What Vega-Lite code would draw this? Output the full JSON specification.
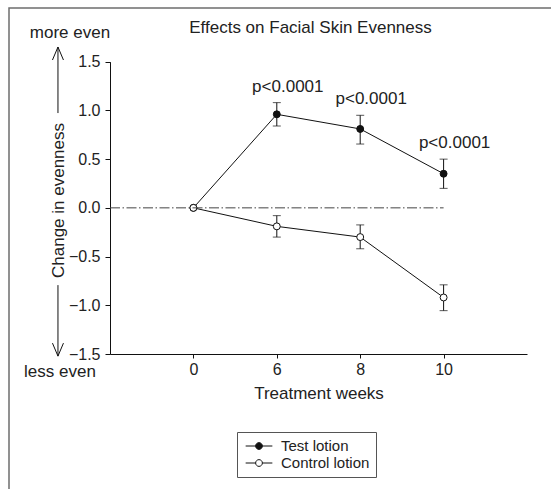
{
  "$schema": "https://vega.github.io/schema/vega-lite/v6.json",
  "autosize": "none",
  "padding": {"left": 9, "top": 8, "right": -3, "bottom": -3},
  "width": 545,
  "height": 484,
  "config": {
    "view": {"stroke": "#6e6e6e", "strokeWidth": 1.5},
    "font": "Liberation Sans",
    "axis": {"grid": false, "domainColor": "#111", "tickColor": "#111", "labelColor": "#222", "titleColor": "#222", "labelFont": "Liberation Sans", "titleFont": "Liberation Sans", "labelFontSize": 16, "titleFontSize": 17, "titleFontWeight": "normal"},
    "text": {"font": "Liberation Sans", "color": "#222"}
  },
  "title": {"text": "Effects on Facial Skin Evenness", "fontSize": 17, "fontWeight": "normal", "color": "#222", "font": "Liberation Sans", "anchor": "middle", "frame": "group", "offset": -42, "baseline": "alphabetic", "dx": 29},
  "layer": [
    {
      "data": {"values": [
        {"series": "Test lotion", "week": 0, "mean": 0},
        {"series": "Test lotion", "week": 6, "mean": 0.96, "lo": 0.84, "hi": 1.08, "p": "p<0.0001"},
        {"series": "Test lotion", "week": 8, "mean": 0.81, "lo": 0.655, "hi": 0.95, "p": "p<0.0001"},
        {"series": "Test lotion", "week": 10, "mean": 0.35, "lo": 0.2, "hi": 0.5, "p": "p<0.0001"},
        {"series": "Control lotion", "week": 0, "mean": 0},
        {"series": "Control lotion", "week": 6, "mean": -0.19, "lo": -0.3, "hi": -0.08},
        {"series": "Control lotion", "week": 8, "mean": -0.3, "lo": -0.42, "hi": -0.175},
        {"series": "Control lotion", "week": 10, "mean": -0.92, "lo": -1.055, "hi": -0.79}
      ]},
      "encoding": {
        "x": {"field": "week", "type": "ordinal", "scale": {"type": "point", "padding": 1, "range": [101, 518]},
              "axis": {"orient": "bottom", "offset": -138, "title": "Treatment weeks", "titlePadding": 8, "labelAngle": 0, "tickSize": 4, "labelPadding": 3}},
        "y": {"field": "mean", "type": "quantitative", "scale": {"domain": [-1.5, 1.5], "range": [346, 53.7], "nice": false, "zero": false},
              "axis": {"orient": "left", "offset": -101, "values": [-1.5, -1, -0.5, 0, 0.5, 1, 1.5], "format": ".1f", "tickSize": 5, "labelPadding": 5,
                       "title": "Change in evenness", "titleX": -52, "titleY": 192, "titleAngle": -90, "titleAlign": "center", "titleBaseline": "middle"}}
      },
      "layer": [
        {"mark": {"type": "line", "color": "#111", "strokeWidth": 1}, "encoding": {"detail": {"field": "series"}}},
        {"transform": [{"filter": "datum.lo != null"}], "mark": {"type": "rule", "color": "#111", "strokeWidth": 1},
         "encoding": {"y": {"field": "lo", "type": "quantitative"}, "y2": {"field": "hi"}}},
        {"transform": [{"filter": "datum.lo != null"}], "mark": {"type": "tick", "color": "#111", "size": 8, "thickness": 1, "orient": "horizontal"},
         "encoding": {"y": {"field": "lo", "type": "quantitative"}}},
        {"transform": [{"filter": "datum.hi != null"}], "mark": {"type": "tick", "color": "#111", "size": 8, "thickness": 1, "orient": "horizontal"},
         "encoding": {"y": {"field": "hi", "type": "quantitative"}}},
        {"mark": {"type": "point", "filled": true, "size": 48, "stroke": "#111", "strokeWidth": 1, "opacity": 1},
         "encoding": {"fill": {"field": "series", "type": "nominal",
                                "scale": {"domain": ["Test lotion", "Control lotion"], "range": ["#111111", "#ffffff"]},
                                "legend": {"orient": "none", "legendX": 228, "legendY": 424, "title": null, "padding": 6,
                                           "strokeColor": "#555", "fillColor": "white",
                                           "symbolType": "M-1.78,0H-0.45M0.45,0H1.78M-0.45,0A0.45,0.45,0,1,1,0.45,0A0.45,0.45,0,1,1,-0.45,0Z",
                                           "symbolSize": 225, "symbolStrokeColor": "#111", "symbolStrokeWidth": 1,
                                           "symbolOffset": 8, "labelOffset": 14, "labelFontSize": 15, "labelColor": "#222", "labelFont": "Liberation Sans", "rowPadding": 1}}}},
        {"transform": [{"filter": "datum.p != null"}], "mark": {"type": "text", "fontSize": 17, "baseline": "alphabetic", "dy": -11, "dx": 11},
         "encoding": {"y": {"field": "hi", "type": "quantitative"}, "text": {"field": "p"}}}
      ]
    },
    {
      "data": {"values": [{"note": "annotations"}]},
      "layer": [
        {"mark": {"type": "rule", "color": "#444", "strokeWidth": 1, "strokeDash": [10, 2.5, 1.5, 2.5]},
         "encoding": {"x": {"datum": 0, "type": "quantitative", "scale": {"domain": [0, 5], "range": [101, 518]}, "axis": null}, "x2": {"datum": 4}, "y": {"datum": 0, "type": "quantitative"}}},
        {"mark": {"type": "rule", "color": "#111", "strokeWidth": 1},
         "encoding": {"x": {"datum": -0.624, "type": "quantitative"}, "y": {"datum": 1.651, "type": "quantitative"}, "y2": {"datum": 0.973}}},
        {"mark": {"type": "rule", "color": "#111", "strokeWidth": 1},
         "encoding": {"x": {"datum": -0.624, "type": "quantitative"}, "y": {"datum": -0.793, "type": "quantitative"}, "y2": {"datum": -1.522}}},
        {"mark": {"type": "point", "filled": false, "stroke": "#111", "strokeWidth": 1, "size": 400, "shape": "M-0.55,0.65L0,-0.65L0.55,0.65", "opacity": 1},
         "encoding": {"x": {"datum": -0.624, "type": "quantitative"}, "y": {"datum": 1.584, "type": "quantitative"}}},
        {"mark": {"type": "point", "filled": false, "stroke": "#111", "strokeWidth": 1, "size": 400, "shape": "M-0.55,-0.65L0,0.65L0.55,-0.65", "opacity": 1},
         "encoding": {"x": {"datum": -0.624, "type": "quantitative"}, "y": {"datum": -1.455, "type": "quantitative"}}},
        {"mark": {"type": "text", "fontSize": 17, "baseline": "alphabetic", "align": "center"},
         "encoding": {"x": {"datum": -0.48, "type": "quantitative"}, "y": {"datum": 1.74, "type": "quantitative"}, "text": {"value": "more even"}}},
        {"mark": {"type": "text", "fontSize": 17, "baseline": "alphabetic", "align": "center"},
         "encoding": {"x": {"datum": -0.6, "type": "quantitative"}, "y": {"datum": -1.734, "type": "quantitative"}, "text": {"value": "less even"}}}
      ]
    }
  ],
  "resolve": {"scale": {"x": "independent"}}
}
